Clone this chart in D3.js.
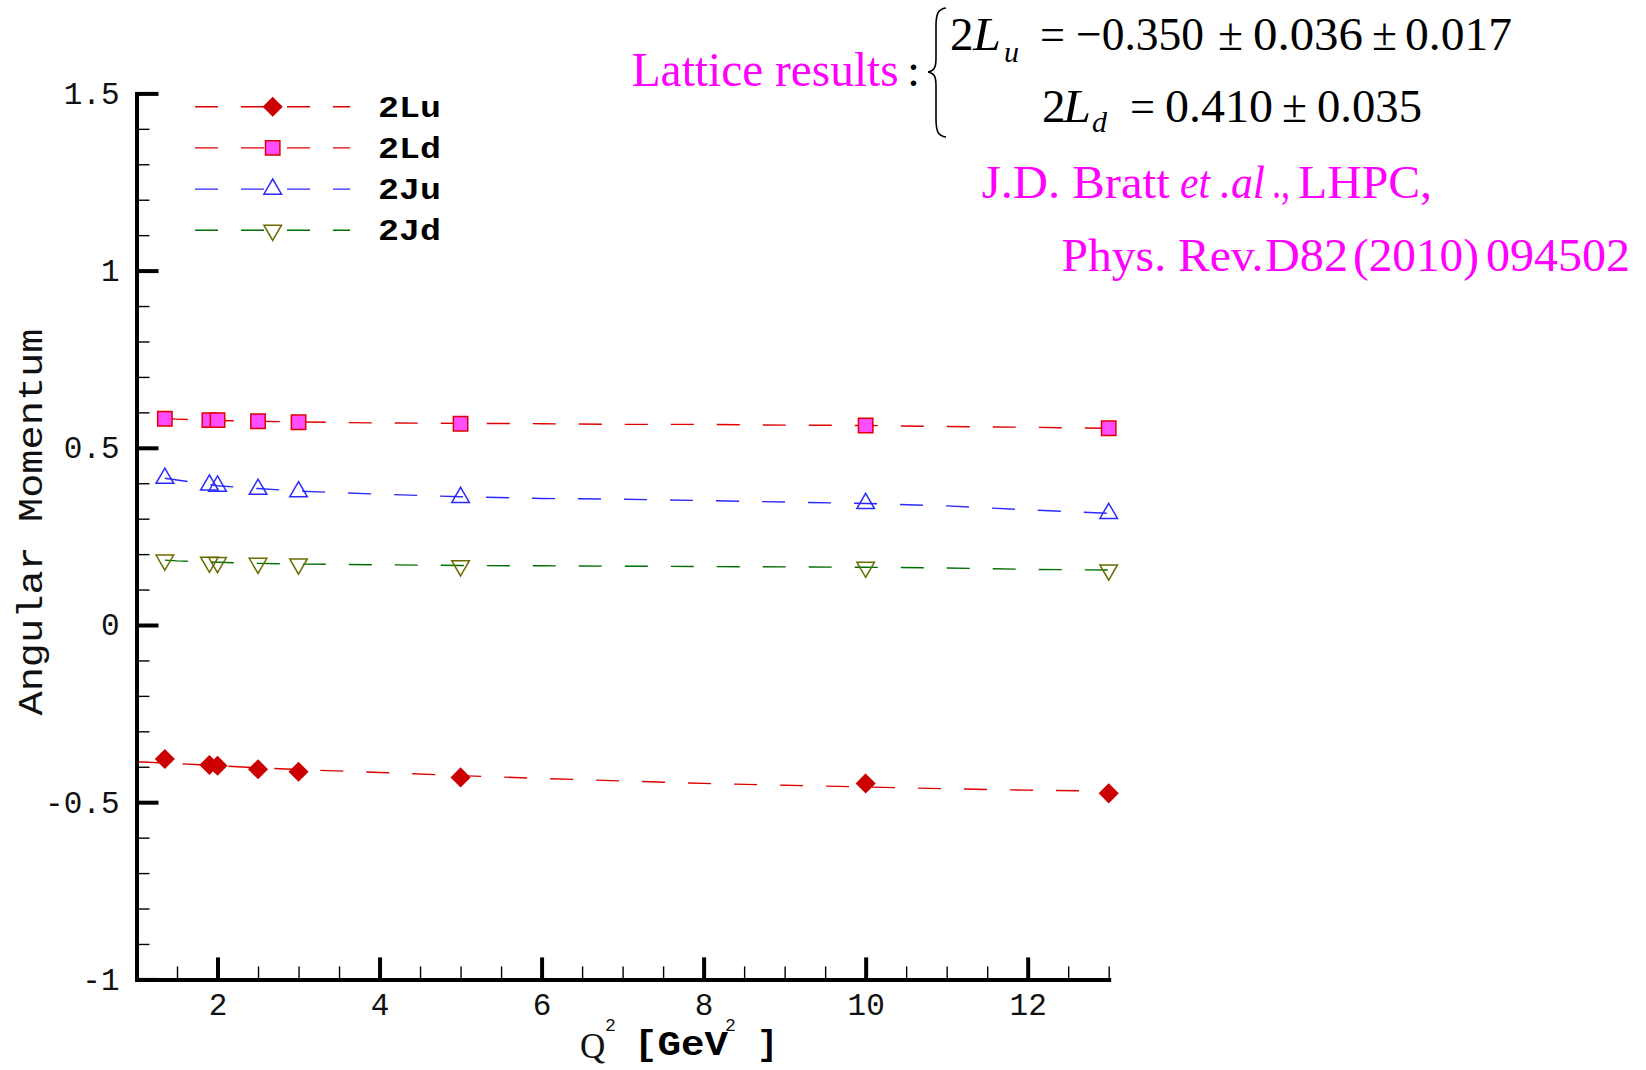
<!DOCTYPE html>
<html><head><meta charset="utf-8">
<script src="https://cdn.jsdelivr.net/npm/d3@7"></script>
<style>html,body{margin:0;padding:0;background:#fff;} svg{display:block;}</style>
</head><body>
<svg id="chart" width="1646" height="1070"></svg>
<script>
// ---------------- data ----------------
const markerQ2 = [1.35, 1.9, 2, 2.5, 3, 5, 10, 13];
const val2Lu = [-0.378, -0.395, -0.397, -0.407, -0.414, -0.430, -0.447, -0.475];
const val2Ld = [0.582, 0.578, 0.578, 0.575, 0.572, 0.568, 0.563, 0.555];
const val2Ju = [0.414, 0.395, 0.392, 0.383, 0.376, 0.360, 0.343, 0.315];
const val2Jd = [0.183, 0.177, 0.176, 0.174, 0.172, 0.167, 0.163, 0.155];

const curveQ2Lu = [1, 1.5, 2, 2.5, 3, 4, 5, 6, 7, 8, 9, 10, 11, 12, 13];
const curve2Lu = [-0.386, -0.391, -0.397, -0.403, -0.408, -0.416, -0.425, -0.433, -0.440, -0.447, -0.452, -0.457, -0.462, -0.466, -0.469];
const curveQ2 = [1.35, 1.5, 2, 2.5, 3, 4, 5, 6, 7, 8, 9, 10, 11, 12, 13];
const curve2Ld = [0.582, 0.581, 0.577, 0.575, 0.573, 0.570, 0.569, 0.568, 0.566, 0.566, 0.564, 0.563, 0.560, 0.558, 0.555];
const curve2Ju = [0.414, 0.409, 0.393, 0.385, 0.378, 0.369, 0.362, 0.357, 0.355, 0.351, 0.347, 0.343, 0.336, 0.325, 0.315];
const curve2Jd = [0.183, 0.181, 0.177, 0.174, 0.172, 0.170, 0.168, 0.167, 0.166, 0.165, 0.164, 0.163, 0.161, 0.157, 0.155];

const seriesNames = ["2Lu", "2Ld", "2Ju", "2Jd"];
const xMajorTicks = [2, 4, 6, 8, 10, 12];
const xMinorTicks = [1.5, 2.5, 3, 3.5, 4.5, 5, 5.5, 6.5, 7, 7.5, 8.5, 9, 9.5, 10.5, 11, 11.5, 12.5, 13];
const yMajorTicks = [-1, -0.5, 0, 0.5, 1, 1.5];
const yTickLabels = ["-1", "-0.5", "0", "0.5", "1", "1.5"];
const yMinorTicks = [-0.9, -0.8, -0.7, -0.6, -0.4, -0.3, -0.2, -0.1, 0.1, 0.2, 0.3, 0.4, 0.6, 0.7, 0.8, 0.9, 1.1, 1.2, 1.3, 1.4];

// ---------------- setup ----------------
const svg = d3.select("#chart");
svg.append("rect").attr("width", 1646).attr("height", 1070).attr("fill", "#fff");

const x = d3.scaleLinear().domain([1, 13]).range([136.5, 1108.7]);
const y = d3.scaleLinear().domain([-1, 1.5]).range([979.4, 93.4]);

const monoFont = "'Liberation Mono', 'DejaVu Sans Mono', monospace";
const serifFont = "'Liberation Serif', 'DejaVu Serif', serif";

const symbols = {
  diamond: "M0,-9L9,0L0,9L-9,0Z",
  square: "M-7.2,-7.2H7.2V7.2H-7.2Z",
  triUp: "M0,-10.1L8.8,5.07L-8.8,5.07Z",
  triDown: "M0,10.1L8.8,-5.07L-8.8,-5.07Z"
};

const series = [
  {name: seriesNames[0], mx: markerQ2, my: val2Lu, cx: curveQ2Lu, cy: curve2Lu, line: "#e00000", sym: "diamond", fill: "#cc0000", stroke: "#cc0000"},
  {name: seriesNames[1], mx: markerQ2, my: val2Ld, cx: curveQ2, cy: curve2Ld, line: "#e00000", sym: "square", fill: "#ff4dff", stroke: "#e00000"},
  {name: seriesNames[2], mx: markerQ2, my: val2Ju, cx: curveQ2, cy: curve2Ju, line: "#2a2aff", sym: "triUp", fill: "none", stroke: "#2a2aff"},
  {name: seriesNames[3], mx: markerQ2, my: val2Jd, cx: curveQ2, cy: curve2Jd, line: "#006e00", sym: "triDown", fill: "none", stroke: "#6b6b00"}
];

// ---------------- lines ----------------
const lineGen = d3.line().x(d => x(d[0])).y(d => y(d[1]));
const gLines = svg.append("g");
series.forEach(s => {
  gLines.append("path")
    .attr("d", lineGen(s.cx.map((v, i) => [v, s.cy[i]])))
    .attr("fill", "none")
    .attr("stroke", s.line)
    .attr("stroke-width", 1.4)
    .attr("stroke-dasharray", "23,23");
});

// ---------------- axes ----------------
function styleAxis(g, w) {
  g.select(".domain").attr("stroke", "#000").attr("stroke-width", 4).attr("stroke-linecap", "square");
  g.selectAll(".tick line").attr("stroke", "#000").attr("stroke-width", w);
}
const xMinor = svg.append("g").attr("transform", `translate(0,${y(-1)})`)
  .call(d3.axisBottom(x).tickValues(xMinorTicks).tickSize(-13).tickSizeOuter(0).tickFormat(""));
styleAxis(xMinor, 1.4);
xMinor.select(".domain").remove();
const yMinor = svg.append("g").attr("transform", `translate(${x(1)},0)`)
  .call(d3.axisLeft(y).tickValues(yMinorTicks).tickSize(-13).tickSizeOuter(0).tickFormat(""));
styleAxis(yMinor, 1.4);
yMinor.select(".domain").remove();

const xAxis = svg.append("g").attr("transform", `translate(0,${y(-1)})`)
  .call(d3.axisBottom(x).tickValues(xMajorTicks).tickSize(-22).tickSizeOuter(0).tickPadding(14).tickFormat(d3.format("d")));
styleAxis(xAxis, 4);
xAxis.selectAll("text").attr("font-family", monoFont).attr("font-size", 31).attr("fill", "#111");

const yAxis = svg.append("g").attr("transform", `translate(${x(1)},0)`)
  .call(d3.axisLeft(y).tickValues(yMajorTicks).tickSize(-22).tickSizeOuter(0).tickPadding(17)
    .tickFormat(d => yTickLabels[yMajorTicks.indexOf(d)]));
styleAxis(yAxis, 4);
yAxis.selectAll("text").attr("font-family", monoFont).attr("font-size", 31).attr("fill", "#111");

// ---------------- markers ----------------
series.forEach(s => {
  svg.append("g").selectAll("path").data(s.mx.map((v, i) => [v, s.my[i]])).join("path")
    .attr("transform", d => `translate(${x(d[0])},${y(d[1])})`)
    .attr("d", symbols[s.sym])
    .attr("fill", s.fill)
    .attr("stroke", s.stroke)
    .attr("stroke-width", 1.5)
    .attr("stroke-linejoin", "miter");
});

// ---------------- axis titles ----------------
svg.append("text")
  .attr("transform", "translate(42,522) rotate(-90)")
  .attr("text-anchor", "middle")
  .attr("font-family", monoFont).attr("font-size", 35)
  .attr("textLength", 387).attr("lengthAdjust", "spacingAndGlyphs")
  .attr("fill", "#111")
  .text("Angular Momentum");

const xt = svg.append("g");
xt.append("text").attr("x", 580).attr("y", 1058).attr("font-family", serifFont).attr("font-size", 35).attr("fill", "#111").text("Q");
xt.append("text").attr("x", 605).attr("y", 1031).attr("font-family", monoFont).attr("font-size", 18).attr("fill", "#111").text("2");
xt.append("text").attr("x", 634).attr("y", 1055).attr("font-family", monoFont).attr("font-weight", "bold").attr("font-size", 35)
  .attr("textLength", 94).attr("lengthAdjust", "spacingAndGlyphs").attr("fill", "#000").text("[GeV");
xt.append("text").attr("x", 725).attr("y", 1031).attr("font-family", monoFont).attr("font-size", 18).attr("fill", "#111").text("2");
xt.append("text").attr("x", 757).attr("y", 1055).attr("font-family", monoFont).attr("font-weight", "bold").attr("font-size", 35).attr("fill", "#000").text("]");

// ---------------- legend ----------------
const legend = svg.append("g");
series.forEach((s, i) => {
  const ly = 106.7 + i * 41.2;
  legend.append("line").attr("x1", 195).attr("x2", 350).attr("y1", ly).attr("y2", ly)
    .attr("stroke", s.line).attr("stroke-width", 1.4).attr("stroke-dasharray", "23,23");
  legend.append("path").attr("transform", `translate(272.7,${ly})`).attr("d", symbols[s.sym])
    .attr("fill", s.fill === "none" ? "#fff" : s.fill).attr("stroke", s.stroke).attr("stroke-width", 1.5);
  legend.append("text").attr("x", 378).attr("y", ly + 10)
    .attr("font-family", monoFont).attr("font-weight", "bold").attr("font-size", 30)
    .attr("textLength", 63).attr("lengthAdjust", "spacingAndGlyphs").attr("fill", "#000")
    .text(s.name);
});

// ---------------- annotation ----------------
const ann = svg.append("g").attr("font-family", serifFont);
function t(xp, yp, str, opts) {
  const e = ann.append("text").attr("x", xp).attr("y", yp).text(str)
    .attr("font-size", opts.size || 47).attr("fill", opts.color || "#000");
  if (opts.italic) e.attr("font-style", "italic");
  if (opts.len) e.attr("textLength", opts.len).attr("lengthAdjust", "spacingAndGlyphs");
  return e;
}
const mag = "#ff00ff";
t(631.7, 86, "Lattice results", {size: 49, color: mag, len: 267});
t(907, 86, ":", {size: 47});
ann.append("path")
  .attr("d", "M946,8 C938,9 936,14 936,26 L936,58 C936,68 934,71 928,72 C934,73 936,76 936,86 L936,119 C936,131 938,136 946,137")
  .attr("fill", "none").attr("stroke", "#000").attr("stroke-width", 1.6);
// line 1
t(950, 49.5, "2", {});
t(973, 49.5, "L", {italic: true, len: 28});
t(1004, 62, "u", {italic: true, size: 30});
t(1040, 49.5, "=", {len: 25});
t(1076, 49.5, "\u22120.350", {len: 128});
t(1218, 49.5, "\u00b1", {len: 25});
t(1253, 49.5, "0.036", {len: 110});
t(1372, 49.5, "\u00b1", {len: 25});
t(1405, 49.5, "0.017", {len: 107});
// line 2
t(1042, 121.7, "2", {});
t(1063, 121.7, "L", {italic: true, len: 28});
t(1092, 131.7, "d", {italic: true, size: 30});
t(1130, 121.7, "=", {len: 25});
t(1165, 121.7, "0.410", {len: 108});
t(1282, 121.7, "\u00b1", {len: 25});
t(1317, 121.7, "0.035", {len: 105});
// reference
t(981.7, 198.3, "J.D. Bratt", {size: 46, color: mag, len: 188});
t(1180, 198.3, "et", {size: 46, color: mag, italic: true, len: 30});
t(1220, 198.3, ".al", {size: 46, color: mag, italic: true, len: 45});
t(1272, 198.3, ".,", {size: 46, color: mag, len: 18});
t(1298, 198.3, "LHPC,", {size: 46, color: mag, len: 134});
t(1061.5, 271, "Phys. Rev.", {size: 47, color: mag, len: 202});
t(1265, 271, "D82", {size: 47, color: mag, len: 83});
t(1353, 271, "(2010)", {size: 47, color: mag, len: 126});
t(1486, 271, "094502", {size: 47, color: mag, len: 144});
</script>
</body></html>
